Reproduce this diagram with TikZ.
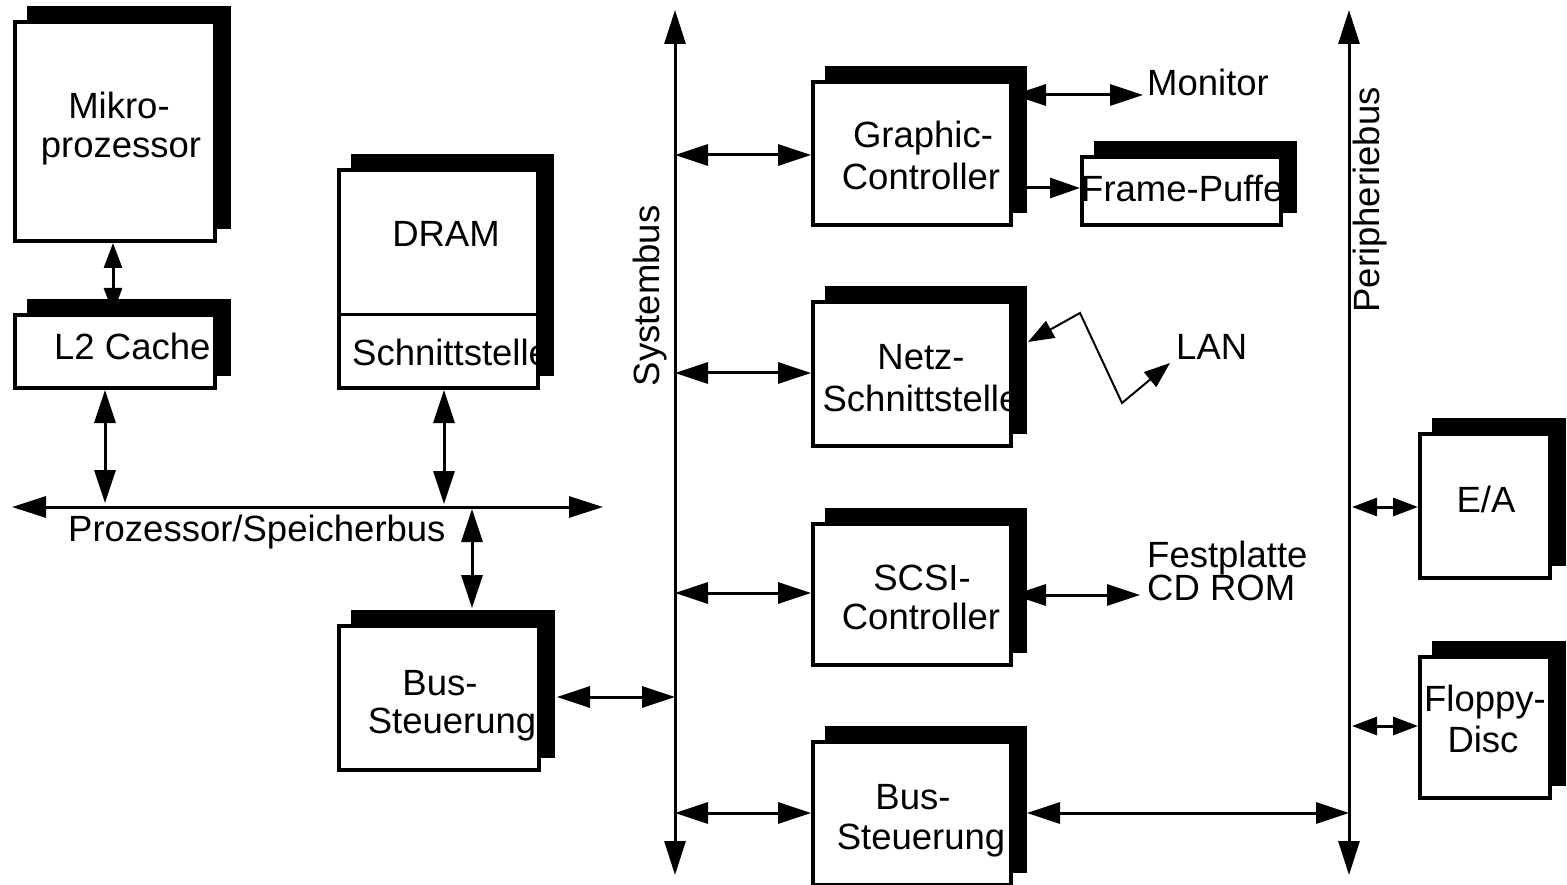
\documentclass[tikz,border=0pt]{standalone}
\usepackage{fontspec}
\setmainfont{Liberation Sans}
\usetikzlibrary{arrows.meta,shadows,calc}
\begin{document}
\begin{tikzpicture}[x=1pt,y=-1pt,
  box/.style={draw, line width=4pt, fill=white, inner sep=0pt,
    general shadow={fill=black, draw=black, line width=4pt, shadow xshift=14pt, shadow yshift=14pt}},
  lbl/.style={inner sep=0pt, font=\fontsize{36.5pt}{41pt}\selectfont},
  dbl/.style={line width=3pt, {Triangle[length=33pt,width=21pt]}-{Triangle[length=33pt,width=21pt]}},
  one/.style={line width=3pt, -{Triangle[length=30pt,width=20pt]}},
  sdbl/.style={line width=3pt, {Triangle[length=25pt,width=18pt]}-{Triangle[length=25pt,width=18pt]}},
  lanline/.style={line width=2pt, {Triangle[length=26pt,width=19pt]}-{Triangle[length=26pt,width=19pt]}},
  bus/.style={line width=3pt, {Triangle[length=34pt,width=21pt]}-{Triangle[length=34pt,width=21pt]}}]
\useasboundingbox (0,0) rectangle (1567,885);

% boxes
\node[box, minimum width=200pt, minimum height=219pt] (mikro) at (115,131.5) {};
\node[box, minimum width=200pt, minimum height=73pt] (L2) at (115,351.5) {};
\node[box, minimum width=199pt, minimum height=218pt] (dram) at (438.5,279) {};
\node[box, minimum width=200pt, minimum height=144pt] (busL) at (439,698) {};
\node[box, minimum width=198pt, minimum height=143pt] (graphic) at (912,153.5) {};
\node[box, minimum width=199pt, minimum height=68pt] (frame) at (1181.5,191) {};
\node[box, minimum width=198pt, minimum height=144pt] (netz) at (912,374) {};
\node[box, minimum width=198pt, minimum height=141pt] (scsi) at (912,594.5) {};
\node[box, minimum width=198pt, minimum height=143pt] (busR) at (912,813.5) {};
\node[box, minimum width=130pt, minimum height=144pt] (ea) at (1485,506) {};
\node[box, minimum width=130pt, minimum height=141pt] (floppy) at (1485,727.5) {};

% DRAM divider
\coordinate (dramdiv) at (438,315);
\draw[line width=3pt] (dramdiv -| dram.west) -- (dramdiv -| dram.east);

% bus coordinates
\coordinate (pbL) at (12,507);
\coordinate (pbR) at (603,507);
\coordinate (sysT) at (675,10);
\coordinate (sysB) at (675,875);
\coordinate (perT) at (1349,10);
\coordinate (perB) at (1349,875);
\coordinate (pb1) at (105,503);
\coordinate (pb2) at (444,504);
\coordinate (pb3) at (472,509);
\coordinate (s0) at (675,697);
\coordinate (s1) at (675,155);
\coordinate (s2) at (675,373);
\coordinate (s3) at (675,593);
\coordinate (s4) at (675,813);
\coordinate (mon) at (1143,95);
\coordinate (fest) at (1140,595);
\coordinate (fr) at (1080,188);
\coordinate (lanA) at (1080,313);
\coordinate (lanB) at (1122,403);
\coordinate (lanE) at (1170,363);
\coordinate (p4) at (1349,813);
\coordinate (p5) at (1352,507);
\coordinate (p6) at (1352,726);

% buses
\draw[bus] (pbL) -- (pbR);
\draw[bus] (sysT) -- (sysB);
\draw[bus] (perT) -- (perB);

% connectors
\draw[sdbl] ([xshift=-2pt]mikro.south) -- ([xshift=-2pt]L2.north);
\draw[dbl] (pb1 |- L2.south) -- (pb1);
\draw[dbl] (pb2 |- dram.south) -- (pb2);
\draw[dbl] (pb3) -- ($(pb3 |- busL.north)+(0,-16)$);
\draw[dbl] ($(s0 -| busL.east)+(16,0)$) -- (s0);
\draw[dbl] (s1) -- (s1 -| graphic.west);
\draw[dbl] (s2) -- (s2 -| netz.west);
\draw[dbl] (s3) -- (s3 -| scsi.west);
\draw[dbl] (s4) -- (s4 -| busR.west);
\draw[dbl] (mon -| graphic.east) -- (mon);
\draw[one] (fr -| graphic.east) -- (fr -| frame.west);
\draw[lanline] ($(netz.east)+(15,-32)$) -- (lanA) -- (lanB) -- (lanE);
\draw[dbl] (fest -| scsi.east) -- (fest);
\draw[dbl] ($(p4 -| busR.east)+(14,0)$) -- (p4);
\draw[sdbl] (p5) -- (p5 -| ea.west);
\draw[sdbl] (p6) -- (p6 -| floppy.west);

% texts
\node[lbl, anchor=base] (tMikroA) at (119,119) {Mikro-};
\node[lbl, anchor=base] (tMikroB) at (121,158) {prozessor};
\node[lbl, anchor=base west] (tL2) at (54,360) {L2 Cache};
\node[lbl, anchor=base] (tDram) at (446,247) {DRAM};
\node[lbl, anchor=base west] (tSchn) at (352,366) {Schnittstelle};
\node[lbl, anchor=base west] (tPSB) at (68,541) {Prozessor/Speicherbus};
\node[lbl, anchor=base] (tBusLA) at (440,695) {Bus-};
\node[lbl, anchor=base] (tBusLB) at (452,733) {Steuerung};
\node[lbl, anchor=base, rotate=90] (tSys) at (659,296) {Systembus};
\node[lbl, anchor=base] (tGrA) at (923,148) {Graphic-};
\node[lbl, anchor=base] (tGrB) at (921,190) {Controller};
\node[lbl, anchor=base west] (tMon) at (1147,96) {Monitor};
\node[lbl, anchor=base west] (tFrame) at (1081,202) {Frame-Puffer};
\node[lbl, anchor=base] (tNetzA) at (921,370) {Netz-};
\node[lbl, anchor=base] (tNetzB) at (921,411) {Schnittstelle};
\node[lbl, anchor=base west] (tLan) at (1176,360) {LAN};
\node[lbl, anchor=base] (tScsiA) at (922,590) {SCSI-};
\node[lbl, anchor=base] (tScsiB) at (921,629) {Controller};
\node[lbl, anchor=base west] (tFest) at (1147,567) {Festplatte};
\node[lbl, anchor=base west] (tCd) at (1147,600) {CD ROM};
\node[lbl, anchor=base] (tBusRA) at (913,809) {Bus-};
\node[lbl, anchor=base] (tBusRB) at (921,849) {Steuerung};
\node[lbl, anchor=base, rotate=90] (tPer) at (1379,200) {Peripheriebus};
\node[lbl, anchor=base] (tEA) at (1486,512) {E/A};
\node[lbl, anchor=base] (tFlA) at (1485,711) {Floppy-};
\node[lbl, anchor=base] (tFlB) at (1483,752) {Disc};
\end{tikzpicture}
\end{document}
